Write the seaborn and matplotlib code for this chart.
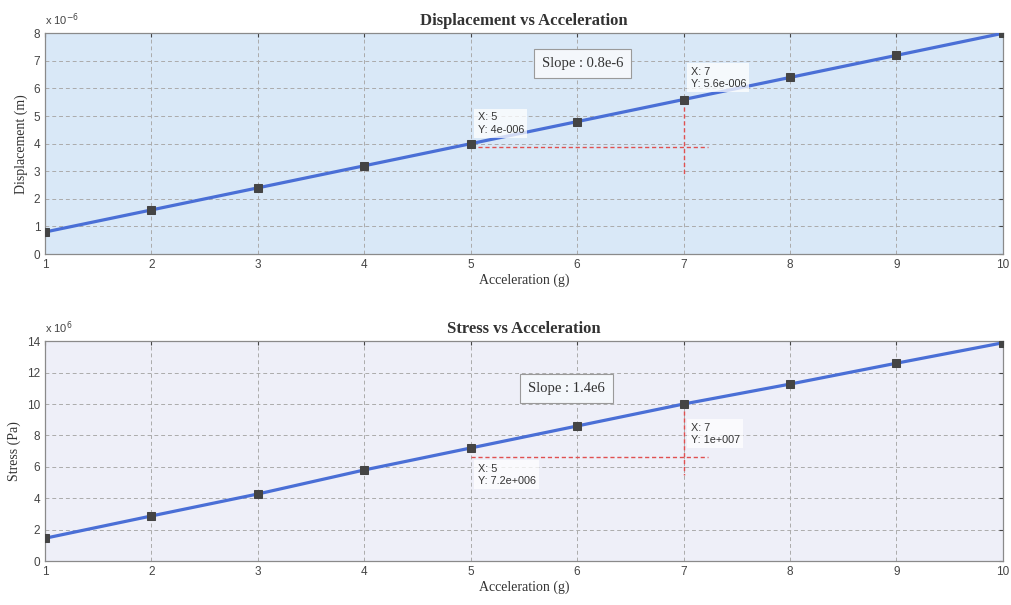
import numpy as np
import pandas as pd
import matplotlib
matplotlib.use("Agg")
import matplotlib.pyplot as plt
from matplotlib.ticker import FuncFormatter
import seaborn as sns

# ---- data ----
acceleration = [1, 2, 3, 4, 5, 6, 7, 8, 9, 10]
displacement = [0.8e-6, 1.6e-6, 2.4e-6, 3.2e-6, 4.0e-6, 4.8e-6, 5.6e-6, 6.4e-6, 7.2e-6, 8.0e-6]
stress = [1.45e6, 2.87e6, 4.27e6, 5.8e6, 7.2e6, 8.6e6, 10.0e6, 11.27e6, 12.6e6, 13.9e6]

disp_tips = [(5, 4.0e-6, "X: 5\nY: 4e-006"), (7, 5.6e-6, "X: 7\nY: 5.6e-006")]
stress_tips = [(5, 7.2e6, "X: 5\nY: 7.2e+006"), (7, 10.0e6, "X: 7\nY: 1e+007")]
disp_red_h = (5, 7.23, 3.88e-6)
disp_red_v = (7, 5.6e-6, 2.86e-6)
stress_red_h = (5, 7.23, 6.62e6)
stress_red_v = (7, 10.0e6, 5.5e6)

sns.set_style("white")
plt.rcParams["font.family"] = ["Liberation Sans", "DejaVu Sans"]

fig = plt.figure(figsize=(10.12, 6.05), dpi=100)
fig.patch.set_facecolor("white")
ax1 = fig.add_axes([0.0445, 0.580, 0.9465, 0.365])
ax2 = fig.add_axes([0.0445, 0.0727, 0.9465, 0.3633])

line_c = "#4a6fd6"
serif = ["Liberation Serif", "DejaVu Serif"]

def style(ax, bg, ylim, yticks, scale, exp):
    ax.set_facecolor(bg)
    ax.set_xlim(1, 10)
    ax.set_ylim(*ylim)
    ax.set_xticks(acceleration)
    ax.set_yticks(yticks)
    ax.yaxis.set_major_formatter(FuncFormatter(lambda v, p: f"{v/scale:.0f}"))
    ax.grid(True, linestyle=(0, (4, 3)), color="#ababab", linewidth=0.7)
    ax.tick_params(direction="in", labelsize=8.5, colors="#444444", length=3,
                   top=True, right=True)
    for s in ax.spines.values():
        s.set_color("#8a8a8a")
        s.set_linewidth(0.9)
    ax.text(0.0, 1.025, "x 10$^{" + exp + "}$", transform=ax.transAxes, fontsize=8,
            color="#444444", ha="left", va="bottom")

df1 = pd.DataFrame({"Acceleration": acceleration, "Displacement": displacement})
df2 = pd.DataFrame({"Acceleration": acceleration, "Stress": stress})

sns.lineplot(data=df1, x="Acceleration", y="Displacement", ax=ax1, color=line_c,
             linewidth=2.3, marker="s", markersize=5.5, markerfacecolor="#444444",
             markeredgecolor="#444444", zorder=3)
sns.lineplot(data=df2, x="Acceleration", y="Stress", ax=ax2, color=line_c,
             linewidth=2.3, marker="s", markersize=5.5, markerfacecolor="#444444",
             markeredgecolor="#444444", zorder=3)

style(ax1, "#d9e8f7", (0, 8e-6), np.arange(0, 9e-6, 1e-6), 1e-6, "-6")
style(ax2, "#eeeff8", (0, 14e6), np.arange(0, 15e6, 2e6), 1e6, "6")

# red dashed datatip lines
for ax, h, v in [(ax1, disp_red_h, disp_red_v), (ax2, stress_red_h, stress_red_v)]:
    ax.plot([h[0], h[1]], [h[2], h[2]], color="#e05050", linestyle=(0, (3, 2)),
            linewidth=1.0, zorder=2)
    ax.plot([v[0], v[0]], [v[1], v[2]], color="#e05050", linestyle=(0, (3, 2)),
            linewidth=1.0, zorder=2)

# datatips
tipbox = dict(boxstyle="square,pad=0.3", facecolor="white", edgecolor="none", alpha=0.75)
kw = dict(textcoords="offset points", fontsize=7.8, color="#333333", bbox=tipbox,
          zorder=4, linespacing=1.3)
ax1.annotate(disp_tips[0][2], (disp_tips[0][0], disp_tips[0][1]), xytext=(5, 8), **kw)
ax1.annotate(disp_tips[1][2], (disp_tips[1][0], disp_tips[1][1]), xytext=(5, 9), **kw)
ax2.annotate(stress_tips[0][2], (stress_tips[0][0], stress_tips[0][1]), xytext=(5, -26), **kw)
ax2.annotate(stress_tips[1][2], (stress_tips[1][0], stress_tips[1][1]), xytext=(5, -28), **kw)

# slope boxes
slopebox = dict(boxstyle="square,pad=0.55", facecolor="#f4f7fb", edgecolor="#9a9a9a",
                linewidth=0.8)
ax1.text(6.05, 6.9e-6, "Slope : 0.8e-6", ha="center", va="center", fontsize=10.5,
         family=serif, color="#333333", bbox=slopebox, zorder=5)
ax2.text(5.9, 11.0e6, "Slope : 1.4e6", ha="center", va="center", fontsize=10.5,
         family=serif, color="#333333", bbox=slopebox, zorder=5)

ax1.set_title("Displacement vs Acceleration", family=serif, fontweight="bold",
              fontsize=12, color="#333333", pad=6)
ax2.set_title("Stress vs Acceleration", family=serif, fontweight="bold",
              fontsize=12, color="#333333", pad=6)
ax1.set_xlabel("Acceleration (g)", family=serif, fontsize=10, color="#333333", labelpad=2)
ax2.set_xlabel("Acceleration (g)", family=serif, fontsize=10, color="#333333", labelpad=2)
ax1.set_ylabel("Displacement (m)", family=serif, fontsize=10, color="#333333", labelpad=4)
ax2.set_ylabel("Stress (Pa)", family=serif, fontsize=10, color="#333333", labelpad=4)

fig.savefig("out.png", dpi=100)
